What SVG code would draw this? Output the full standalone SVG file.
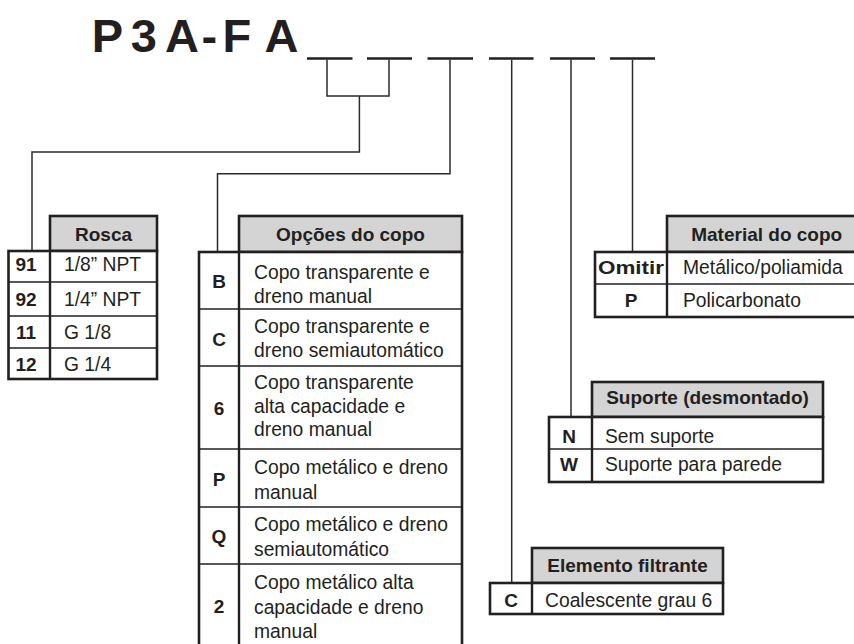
<svg xmlns="http://www.w3.org/2000/svg" width="854" height="644" viewBox="0 0 854 644">
<style>
.bg{fill:#ffffff}
.box{fill:#ffffff;stroke:#231f20;stroke-width:2.6}
.hd{fill:#d4d4d4;stroke:#231f20;stroke-width:2.6}
.div{stroke:#231f20;stroke-width:2.4}
.sep{stroke:#231f20;stroke-width:1.4}
.conn{fill:none;stroke:#2b2b2b;stroke-width:1.5}
.dash{stroke:#231f20;stroke-width:2.6}
text{font-family:"Liberation Sans",Arial,Helvetica,sans-serif;fill:#231f20}
.t{font-size:19.3px}
.b{font-size:19px;font-weight:bold}
.c{text-anchor:middle}
.title{font-size:47px;font-weight:bold}
</style>
<rect class="bg" x="0" y="0" width="854" height="644"/>

<g id="code">
<text class="title" x="91.7 130.7 165 201.5 222.6 264.5" y="52">P3A-FA</text>
<line class="dash" x1="307" y1="58.5" x2="352.5" y2="58.5"/>
<line class="dash" x1="367" y1="58.5" x2="412" y2="58.5"/>
<line class="dash" x1="427.5" y1="58.5" x2="473" y2="58.5"/>
<line class="dash" x1="489" y1="58.5" x2="533.5" y2="58.5"/>
<line class="dash" x1="550" y1="58.5" x2="595" y2="58.5"/>
<line class="dash" x1="610" y1="58.5" x2="655" y2="58.5"/>
</g>

<g id="connectors">
<path class="conn" d="M327,59.5 V96 H389 V59.5"/>
<path class="conn" d="M359.4,96 V152 H32 V251"/>
<path class="conn" d="M450,59.5 V173.7 H217.5 V252"/>
<path class="conn" d="M511.7,59.5 V583"/>
<path class="conn" d="M571,59.5 V417"/>
<path class="conn" d="M632.5,59.5 V252"/>
</g>

<g id="rosca">
<rect class="hd" x="50" y="216" width="107" height="35"/>
<rect class="box" x="8.5" y="251" width="148.5" height="128"/>
<line class="div" x1="50" y1="251" x2="50" y2="379"/>
<line class="sep" x1="8.5" y1="282" x2="157" y2="282"/>
<line class="sep" x1="8.5" y1="316" x2="157" y2="316"/>
<line class="sep" x1="8.5" y1="348" x2="157" y2="348"/>
<text class="b c" x="103.5" y="241">Rosca</text>
<text class="b c" x="26" y="271">91</text>
<text class="b c" x="26" y="305.5">92</text>
<text class="b c" x="26" y="338.5">11</text>
<text class="b c" x="26" y="371">12</text>
<text class="t" x="64" y="271">1/8” NPT</text>
<text class="t" x="64" y="305.5">1/4” NPT</text>
<text class="t" x="64" y="338.5">G 1/8</text>
<text class="t" x="64" y="371">G 1/4</text>
</g>

<g id="opcoes">
<rect class="hd" x="239" y="216" width="223" height="36"/>
<rect class="box" x="199" y="252" width="263" height="396"/>
<line class="div" x1="239" y1="252" x2="239" y2="648"/>
<line class="sep" x1="199" y1="309" x2="462" y2="309"/>
<line class="sep" x1="199" y1="366" x2="462" y2="366"/>
<line class="sep" x1="199" y1="449" x2="462" y2="449"/>
<line class="sep" x1="199" y1="507" x2="462" y2="507"/>
<line class="sep" x1="199" y1="564" x2="462" y2="564"/>
<text class="b c" x="350.5" y="241">Opções do copo</text>
<text class="b c" x="219" y="288">B</text>
<text class="b c" x="219" y="346">C</text>
<text class="b c" x="219" y="415">6</text>
<text class="b c" x="219" y="486">P</text>
<text class="b c" x="219" y="543">Q</text>
<text class="b c" x="219" y="613">2</text>
<text class="t" x="254" y="279.3">Copo transparente e</text>
<text class="t" x="254" y="303.3">dreno manual</text>
<text class="t" x="254" y="333">Copo transparente e</text>
<text class="t" x="254" y="357">dreno semiautomático</text>
<text class="t" x="254" y="389">Copo transparente</text>
<text class="t" x="254" y="412.5">alta capacidade e</text>
<text class="t" x="254" y="436">dreno manual</text>
<text class="t" x="254" y="474.3">Copo metálico e dreno</text>
<text class="t" x="254" y="499">manual</text>
<text class="t" x="254" y="531">Copo metálico e dreno</text>
<text class="t" x="254" y="556">semiautomático</text>
<text class="t" x="254" y="588.5">Copo metálico alta</text>
<text class="t" x="254" y="614">capacidade e dreno</text>
<text class="t" x="254" y="638.3">manual</text>
</g>

<g id="material">
<rect class="hd" x="667" y="216" width="200" height="36"/>
<rect class="box" x="595" y="252" width="272" height="65"/>
<line class="div" x1="667" y1="252" x2="667" y2="317"/>
<line class="sep" x1="595" y1="284" x2="867" y2="284"/>
<text class="b c" x="766.7" y="240.5">Material do copo</text>
<text class="b c" x="631" y="274.3" textLength="66" lengthAdjust="spacingAndGlyphs">Omitir</text>
<text class="b c" x="631" y="306.8">P</text>
<text class="t" x="683" y="274.3">Metálico/poliamida</text>
<text class="t" x="683" y="306.8">Policarbonato</text>
</g>

<g id="suporte">
<rect class="hd" x="592" y="382" width="231" height="35"/>
<rect class="box" x="549" y="417" width="274" height="65"/>
<line class="div" x1="592" y1="417" x2="592" y2="482"/>
<line class="sep" x1="549" y1="449" x2="823" y2="449"/>
<text class="b c" x="707.5" y="404">Suporte (desmontado)</text>
<text class="b c" x="569" y="443">N</text>
<text class="b c" x="569" y="471">W</text>
<text class="t" x="605" y="443">Sem suporte</text>
<text class="t" x="605" y="471">Suporte para parede</text>
</g>

<g id="elemento">
<rect class="hd" x="532" y="548" width="191" height="35"/>
<rect class="box" x="490" y="583" width="233" height="31"/>
<line class="div" x1="532" y1="583" x2="532" y2="614"/>
<text class="b c" x="627.5" y="571.7">Elemento filtrante</text>
<text class="b c" x="511" y="606.5">C</text>
<text class="t" x="545" y="606.5">Coalescente grau 6</text>
</g>
</svg>
